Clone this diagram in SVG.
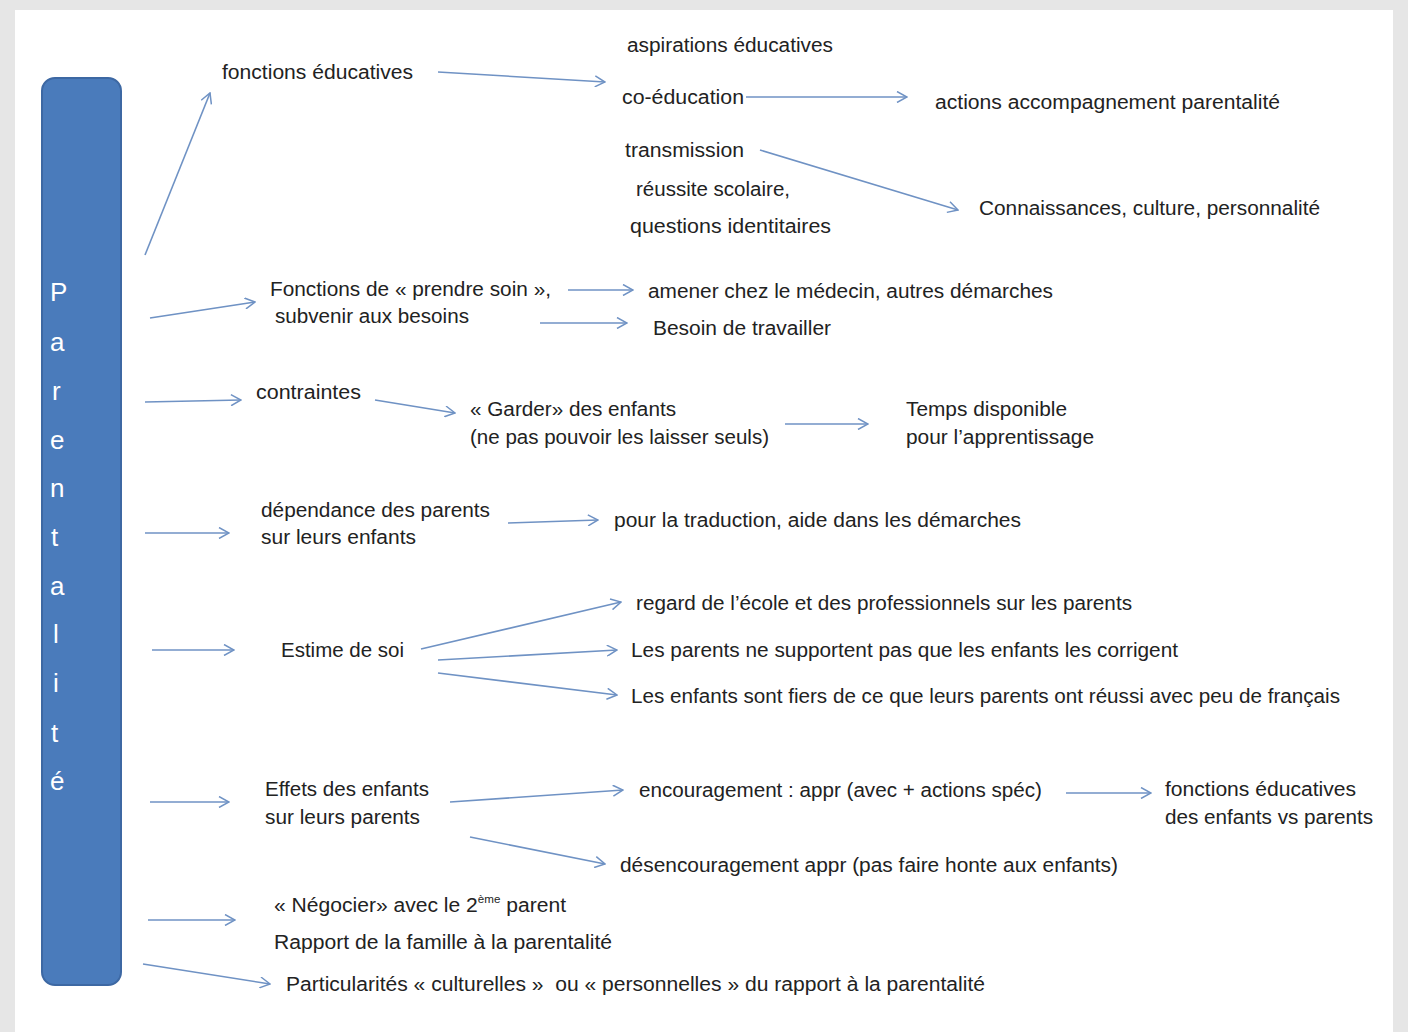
<svg xmlns="http://www.w3.org/2000/svg" width="1408" height="1032" viewBox="0 0 1408 1032">
<defs>
<marker id="ah" markerWidth="12" markerHeight="12" refX="11" refY="6" orient="auto" markerUnits="userSpaceOnUse">
<path d="M1,0.5 L11,6 L1,11.5" fill="none" stroke="#6f92c4" stroke-width="1.5"/>
</marker>
<style>
.t{font-family:"Liberation Sans",Arial,sans-serif;font-size:20px;fill:#222222}
.b{font-family:"Liberation Sans",Arial,sans-serif;font-size:26px;fill:#ffffff}
.c line{stroke:#6f92c4;stroke-width:1.6;fill:none;marker-end:url(#ah)}
</style>
</defs>
<rect x="0" y="0" width="1408" height="1032" fill="#e6e6e6"/>
<rect x="15" y="10" width="1378" height="1022" fill="#ffffff"/>
<g id="parentalite">
<rect x="42" y="78" width="79" height="907" rx="13" ry="13" fill="#4a7bbb" stroke="#3d68a3" stroke-width="2"/>
<text class="b" x="50" y="301">P</text>
<text class="b" x="50" y="351">a</text>
<text class="b" x="52" y="400">r</text>
<text class="b" x="50" y="449">e</text>
<text class="b" x="50" y="497">n</text>
<text class="b" x="51" y="546">t</text>
<text class="b" x="50" y="595">a</text>
<text class="b" x="53" y="643">l</text>
<text class="b" x="53" y="692">i</text>
<text class="b" x="51" y="742">t</text>
<text class="b" x="50" y="790">é</text>
</g>
<g id="n-fonctions-educatives"><text class="t" x="222" y="79" textLength="191" lengthAdjust="spacingAndGlyphs">fonctions éducatives</text></g>
<g id="n-aspirations"><text class="t" x="627" y="52" textLength="206" lengthAdjust="spacingAndGlyphs">aspirations éducatives</text></g>
<g id="n-coeducation"><text class="t" x="622" y="104" textLength="122" lengthAdjust="spacingAndGlyphs">co-éducation</text></g>
<g id="n-actions"><text class="t" x="935" y="109" textLength="345" lengthAdjust="spacingAndGlyphs">actions accompagnement parentalité</text></g>
<g id="n-transmission"><text class="t" x="625" y="157" textLength="119" lengthAdjust="spacingAndGlyphs">transmission</text></g>
<g id="n-reussite"><text class="t" x="636" y="196" textLength="154" lengthAdjust="spacingAndGlyphs">réussite scolaire,</text></g>
<g id="n-questions"><text class="t" x="630" y="233" textLength="201" lengthAdjust="spacingAndGlyphs">questions identitaires</text></g>
<g id="n-connaissances"><text class="t" x="979" y="215" textLength="341" lengthAdjust="spacingAndGlyphs">Connaissances, culture, personnalité</text></g>
<g id="n-prendre-soin">
<text class="t" x="270" y="296" textLength="281" lengthAdjust="spacingAndGlyphs">Fonctions de « prendre soin »,</text>
<text class="t" x="275" y="323" textLength="194" lengthAdjust="spacingAndGlyphs">subvenir aux besoins</text>
</g>
<g id="n-medecin"><text class="t" x="648" y="298" textLength="405" lengthAdjust="spacingAndGlyphs">amener chez le médecin, autres démarches</text></g>
<g id="n-travailler"><text class="t" x="653" y="335" textLength="178" lengthAdjust="spacingAndGlyphs">Besoin de travailler</text></g>
<g id="n-contraintes"><text class="t" x="256" y="399" textLength="105" lengthAdjust="spacingAndGlyphs">contraintes</text></g>
<g id="n-garder">
<text class="t" x="470" y="416" textLength="206" lengthAdjust="spacingAndGlyphs">« Garder» des enfants</text>
<text class="t" x="470" y="444" textLength="299" lengthAdjust="spacingAndGlyphs">(ne pas pouvoir les laisser seuls)</text>
</g>
<g id="n-temps">
<text class="t" x="906" y="416" textLength="161" lengthAdjust="spacingAndGlyphs">Temps disponible</text>
<text class="t" x="906" y="444" textLength="188" lengthAdjust="spacingAndGlyphs">pour l’apprentissage</text>
</g>
<g id="n-dependance">
<text class="t" x="261" y="517" textLength="229" lengthAdjust="spacingAndGlyphs">dépendance des parents</text>
<text class="t" x="261" y="544" textLength="155" lengthAdjust="spacingAndGlyphs">sur leurs enfants</text>
</g>
<g id="n-traduction"><text class="t" x="614" y="527" textLength="407" lengthAdjust="spacingAndGlyphs">pour la traduction, aide dans les démarches</text></g>
<g id="n-estime"><text class="t" x="281" y="657" textLength="123" lengthAdjust="spacingAndGlyphs">Estime de soi</text></g>
<g id="n-regard"><text class="t" x="636" y="610" textLength="496" lengthAdjust="spacingAndGlyphs">regard de l’école et des professionnels sur les parents</text></g>
<g id="n-supportent"><text class="t" x="631" y="657" textLength="547" lengthAdjust="spacingAndGlyphs">Les parents ne supportent pas que les enfants les corrigent</text></g>
<g id="n-fiers"><text class="t" x="631" y="703" textLength="709" lengthAdjust="spacingAndGlyphs">Les enfants sont fiers de ce que leurs parents ont réussi avec peu de français</text></g>
<g id="n-effets">
<text class="t" x="265" y="796" textLength="164" lengthAdjust="spacingAndGlyphs">Effets des enfants</text>
<text class="t" x="265" y="824" textLength="155" lengthAdjust="spacingAndGlyphs">sur leurs parents</text>
</g>
<g id="n-encouragement"><text class="t" x="639" y="797" textLength="403" lengthAdjust="spacingAndGlyphs">encouragement : appr (avec + actions spéc)</text></g>
<g id="n-fonctions-enfants">
<text class="t" x="1165" y="796" textLength="191" lengthAdjust="spacingAndGlyphs">fonctions éducatives</text>
<text class="t" x="1165" y="824" textLength="208" lengthAdjust="spacingAndGlyphs">des enfants vs parents</text>
</g>
<g id="n-desencouragement"><text class="t" x="620" y="872" textLength="498" lengthAdjust="spacingAndGlyphs">désencouragement appr (pas faire honte aux enfants)</text></g>
<g id="n-negocier"><text class="t" x="274" y="912" textLength="292" lengthAdjust="spacingAndGlyphs">« Négocier» avec le 2<tspan font-size="11" dy="-9">ème</tspan><tspan dy="9"> parent</tspan></text></g>
<g id="n-rapport"><text class="t" x="274" y="949" textLength="338" lengthAdjust="spacingAndGlyphs">Rapport de la famille à la parentalité</text></g>
<g id="n-particularites"><text class="t" x="286" y="991" textLength="699" lengthAdjust="spacingAndGlyphs" style="white-space:pre">Particularités « culturelles »  ou « personnelles » du rapport à la parentalité</text></g>
<g id="connectors" class="c">
<line x1="145" y1="255" x2="210" y2="93"/>
<line x1="438" y1="72" x2="605" y2="82"/>
<line x1="746" y1="97" x2="907" y2="97"/>
<line x1="760" y1="150" x2="958" y2="210"/>
<line x1="150" y1="318" x2="255" y2="302"/>
<line x1="568" y1="290" x2="633" y2="290"/>
<line x1="540" y1="323" x2="627" y2="323"/>
<line x1="145" y1="402" x2="241" y2="400"/>
<line x1="375" y1="400" x2="455" y2="413"/>
<line x1="785" y1="424" x2="868" y2="424"/>
<line x1="145" y1="533" x2="229" y2="533"/>
<line x1="508" y1="523" x2="598" y2="520"/>
<line x1="152" y1="650" x2="234" y2="650"/>
<line x1="421" y1="649" x2="621" y2="602"/>
<line x1="438" y1="660" x2="617" y2="650"/>
<line x1="438" y1="673" x2="617" y2="695"/>
<line x1="150" y1="802" x2="229" y2="802"/>
<line x1="450" y1="802" x2="623" y2="790"/>
<line x1="1066" y1="793" x2="1151" y2="793"/>
<line x1="470" y1="837" x2="605" y2="864"/>
<line x1="148" y1="920" x2="235" y2="920"/>
<line x1="143" y1="964" x2="270" y2="984"/>
</g>
</svg>
